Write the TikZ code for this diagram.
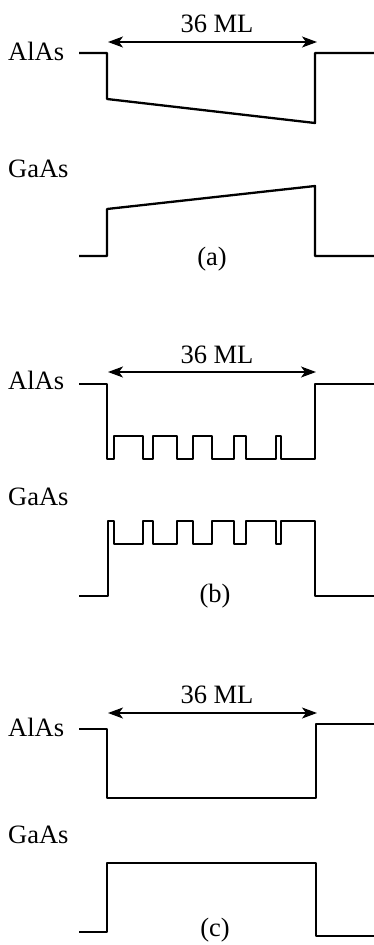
\documentclass[tikz,border=0pt]{standalone}
\usepackage{fontspec}
\setmainfont{Liberation Serif}
\usetikzlibrary{arrows.meta}
\begin{document}
\begin{tikzpicture}[x=1pt,y=-1pt,
  band/.style={line width=2.3pt, line join=round},
  dim/.style={line width=1.3pt, {Stealth[length=15pt,width=11pt,inset=4pt]}-{Stealth[length=15pt,width=11pt,inset=4pt]}},
  lbl/.style={font=\fontsize{26.5}{30}\selectfont, inner sep=0pt}]
\fill[white] (0,0) rectangle (374,945);
\useasboundingbox (0,0) rectangle (374,945);
% ---------- (a)
\node[lbl, anchor=base west] (alA) at (8,60) {AlAs};
\node[lbl, anchor=base west] (gaA) at (8,177) {GaAs};
\node[lbl, anchor=base] (mlA) at (217,32) {36 ML};
\node[lbl] (capA) at (212,259) {(a)};
\coordinate (aL) at (108,42); \coordinate (aR) at (317,42);
\draw[dim] (aL) -- (aR);
\draw[band] (79,53) -- (107,53) -- (107,99) -- (315,123) -- (315,53) -- (374,53);
\draw[band] (79,256) -- (107,256) -- (107,209) -- (315,186) -- (315,256) -- (374,256);
% ---------- (b)
\node[lbl, anchor=base west] (alB) at (8,389) {AlAs};
\node[lbl, anchor=base west] (gaB) at (8,505) {GaAs};
\node[lbl, anchor=base] (mlB) at (217,363) {36 ML};
\node[lbl] (capB) at (215,596) {(b)};
\coordinate (bL) at (108,372); \coordinate (bR) at (316,372);
\draw[dim] (bL) -- (bR);
\draw[band] (79,384) -- (107,384) -- (107,459) -- (114,459) -- (114,436) -- (143,436) -- (143,459) -- (153,459) -- (153,436) -- (177,436) -- (177,459) -- (193,459) -- (193,436) -- (212,436) -- (212,459) -- (234,459) -- (234,436) -- (246,436) -- (246,459) -- (276,459) -- (276,436) -- (281,436) -- (281,459) -- (315,459) -- (315,384) -- (374,384);
\draw[band] (79,596) -- (108,596) -- (108,521) -- (114,521) -- (114,544) -- (143,544) -- (143,521) -- (153,521) -- (153,544) -- (177,544) -- (177,521) -- (193,521) -- (193,544) -- (212,544) -- (212,521) -- (234,521) -- (234,544) -- (246,544) -- (246,521) -- (276,521) -- (276,544) -- (281,544) -- (281,521) -- (315,521) -- (315,596) -- (374,596);
% ---------- (c)
\node[lbl, anchor=base west] (alC) at (8,736) {AlAs};
\node[lbl, anchor=base west] (gaC) at (8,843) {GaAs};
\node[lbl, anchor=base] (mlC) at (217,703) {36 ML};
\node[lbl] (capC) at (215,930) {(c)};
\coordinate (cL) at (108,713); \coordinate (cR) at (317,713);
\draw[dim] (cL) -- (cR);
\draw[band] (79,729) -- (107,729) -- (107,798) -- (316,798) -- (316,724) -- (374,724);
\draw[band] (79,932) -- (107,932) -- (107,863) -- (316,863) -- (316,936) -- (374,936);
\end{tikzpicture}
\end{document}
